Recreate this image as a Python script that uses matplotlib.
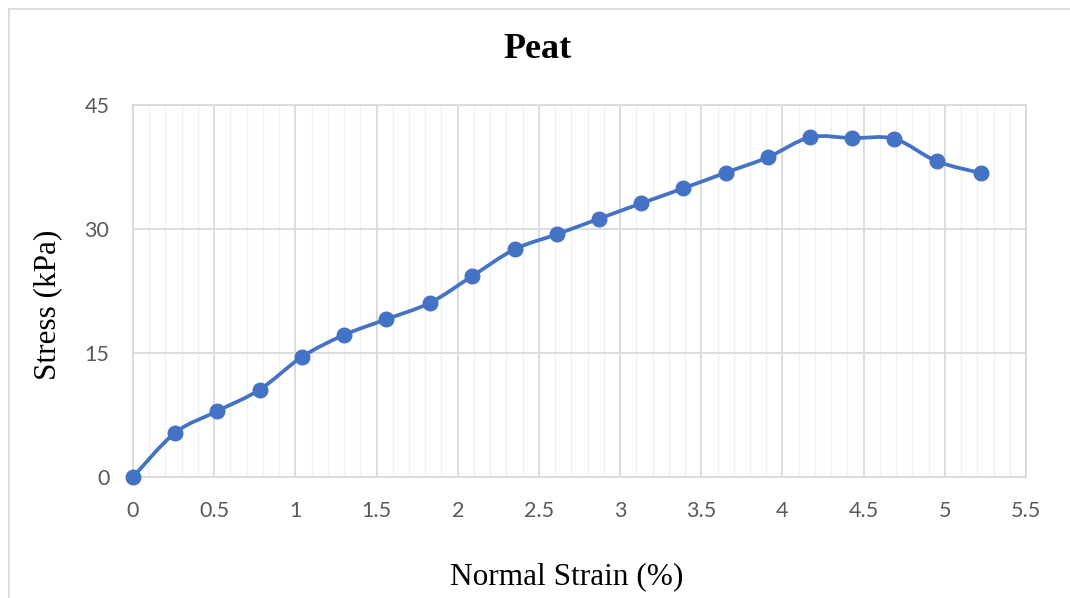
import matplotlib
matplotlib.use("Agg")
import numpy as np
import matplotlib.pyplot as plt
from matplotlib.path import Path
from matplotlib.patches import PathPatch
from matplotlib.lines import Line2D
from matplotlib.ticker import MultipleLocator

# data
strain = [0, 0.26, 0.52, 0.78, 1.04, 1.30, 1.56, 1.83, 2.09, 2.35, 2.61,
          2.87, 3.13, 3.39, 3.65, 3.91, 4.17, 4.43, 4.69, 4.95, 5.22]
stress = [0, 5.36, 7.98, 10.56, 14.52, 17.18, 19.08, 21.08, 24.31, 27.54, 29.36,
          31.24, 33.11, 34.92, 36.81, 38.67, 41.09, 41.0, 40.9, 38.2, 36.77]
xticks = np.arange(0, 5.51, 0.5)
xticklabels = ['0', '0.5', '1', '1.5', '2', '2.5', '3', '3.5', '4', '4.5', '5', '5.5']
yticks = [0, 15, 30, 45]

blue = '#4472C4'
W, H = 1070, 598
fig = plt.figure(figsize=(W / 100, H / 100), dpi=100)
ax = fig.add_axes([133 / W, 1 - 477 / H, (1026 - 133) / W, (477 - 105) / H])

# smoothed connector (Catmull-Rom as cubic Bezier segments, like Excel's smooth line)
pts = np.column_stack([strain, stress])
verts = [pts[0]]
codes = [Path.MOVETO]
n = len(pts)
for i in range(n - 1):
    p0 = pts[max(i - 1, 0)]
    p1 = pts[i]
    p2 = pts[i + 1]
    p3 = pts[min(i + 2, n - 1)]
    verts += [p1 + (p2 - p0) / 6, p2 - (p3 - p1) / 6, p2]
    codes += [Path.CURVE4] * 3
ax.add_patch(PathPatch(Path(verts, codes), facecolor='none', edgecolor=blue,
                       lw=2.7, capstyle='round', joinstyle='round', zorder=3))
ax.plot(strain, stress, ls='none', marker='o', ms=10.5, color=blue, zorder=4,
        clip_on=False)

ax.set_xlim(0, 5.5)
ax.set_ylim(0, 45)
ax.set_xticks(xticks)
ax.set_xticklabels(xticklabels)
ax.set_yticks(yticks)
ax.xaxis.set_minor_locator(MultipleLocator(0.1))
ax.grid(which='major', axis='both', color='#d9d9d9', lw=1.3, zorder=0)
ax.grid(which='minor', axis='x', color='#f0f0f0', lw=1.0, zorder=0)
ax.set_axisbelow(True)
for s in ax.spines.values():
    s.set_color('#d9d9d9')
    s.set_linewidth(1.3)
ax.tick_params(which='both', length=0)
ax.tick_params(axis='x', pad=17)
ax.tick_params(axis='y', pad=17)
for lab in ax.get_xticklabels() + ax.get_yticklabels():
    lab.set_fontfamily('Lato')
    lab.set_fontsize(15.5)
    lab.set_color('#595959')

fig.text(538 / W, 1 - 50 / H, 'Peat', ha='center', va='center',
         family='Liberation Serif', fontsize=26, fontweight='bold')
fig.text(567 / W, 1 - 577 / H, 'Normal Strain (%)', ha='center', va='center',
         family='Liberation Serif', fontsize=22.5)
fig.text(48 / W, 1 - 305 / H, 'Stress (kPa)', ha='center', va='center',
         rotation=90, family='Liberation Serif', fontsize=22.5)

# chart area border
fig.add_artist(Line2D([8.5 / W, 8.5 / W], [0, 1 - 8.5 / H], color='#d9d9d9', lw=1.3))
fig.add_artist(Line2D([8.5 / W, 1], [1 - 8.5 / H, 1 - 8.5 / H], color='#d9d9d9', lw=1.3))

fig.savefig('out.png', dpi=100)
